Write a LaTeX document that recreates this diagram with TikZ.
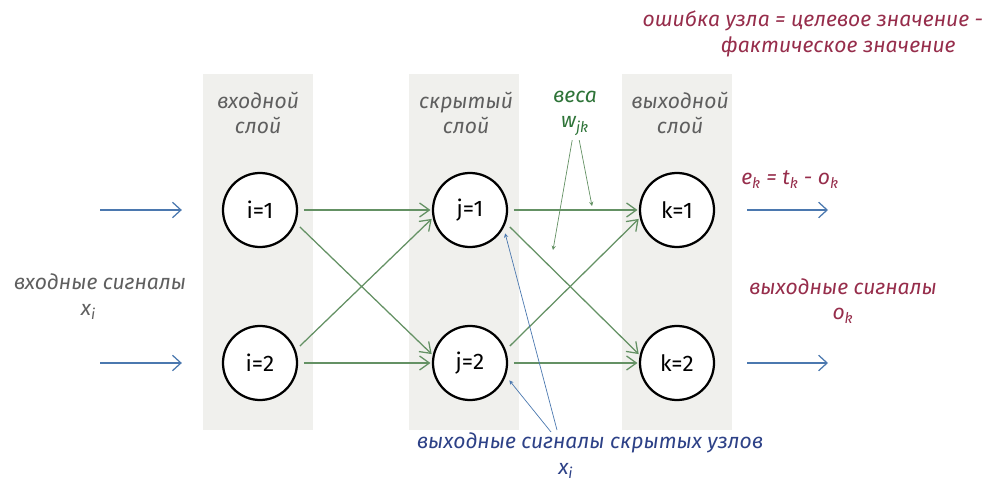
\documentclass[tikz,border=0pt]{standalone}
\usepackage{fontspec}
\setmainfont{Fira Sans}
\usepackage{xcolor}
\usepackage{tikz}
\usetikzlibrary{arrows.meta, positioning}

\definecolor{wgreen}{RGB}{100,145,100}
\definecolor{sigblue}{RGB}{75,120,175}
\definecolor{errred}{RGB}{150,45,75}
\definecolor{lblgray}{RGB}{95,95,95}
\definecolor{txtblue}{RGB}{45,65,135}
\definecolor{txtgreen}{RGB}{45,115,55}
\definecolor{panel}{RGB}{240,240,237}

\begin{document}
\begin{tikzpicture}[
    x=0.025cm, y=-0.025cm,
    neuron/.style={draw, circle, line width=1.6pt, minimum size=1.85cm, fill=white, font=\fontsize{16}{19}\selectfont},
    layer/.style={fill=panel, draw=none, minimum width=2.75cm, minimum height=8.9cm},
    lbl/.style={font=\fontsize{15}{18}\selectfont\itshape, align=center},
    wtarr/.style={-{Straight Barb[length=7pt, width=10pt]}, wgreen, line width=0.9pt, shorten <=4pt, shorten >=1pt},
    sigarr/.style={-{Straight Barb[length=6pt, width=11pt]}, sigblue, line width=0.9pt},
    ptr/.style={-{Stealth[length=3pt, width=3pt]}, line width=0.5pt},
]
\useasboundingbox (0,0) rectangle (992,491);

% Layer panels
\node[layer] (pin) at (258,252) {};
\node[layer] (phid) at (464,252) {};
\node[layer] (pout) at (677,252) {};

% Layer labels
\node[lbl, lblgray] (lin) at (258,113) {входной\\слой};
\node[lbl, lblgray] (lhid) at (466,113) {скрытый\\слой};
\node[lbl, lblgray] (lout) at (680,113) {выходной\\слой};
\node[lbl, txtgreen] (wts) at (575,113) {веса\\w\textsubscript{jk}};

% Neurons
\node[neuron] (i1) at (260,210) {i=1};
\node[neuron] (i2) at (260,363) {i=2};
\node[neuron] (j1) at (470,210) {j=1};
\node[neuron] (j2) at (470,363) {j=2};
\node[neuron] (k1) at (677,210) {k=1};
\node[neuron] (k2) at (677,363) {k=2};

% Signal labels
\node[lbl, lblgray] (xin) at (100,297) {входные сигналы\\x\textsubscript{i}\hspace*{1.1em}};
\node[lbl, errred] (err) at (790,180) {e\textsubscript{k} = t\textsubscript{k} - o\textsubscript{k}};
\node[lbl, errred] (oout) at (843,301) {выходные сигналы\\o\textsubscript{k}};
\node[lbl, errred, align=right, anchor=north east] (errdef) at (988,6) {ошибка узла = целевое значение -\\фактическое значение\hspace*{1.3em}};
\node[lbl, txtblue] (xhid) at (590,456) {выходные сигналы скрытых узлов\\x\textsubscript{i}\hspace*{2.3em}};

% Free ends
\coordinate (in1) at (100,210);
\coordinate (in2) at (100,363);
\coordinate (out1) at (828,210);
\coordinate (out2) at (828,363);
\coordinate (wa) at (553,250);
\coordinate (wb) at (592,206);
\coordinate (ha) at (557,430);
\coordinate (hb) at (551,432);

% Input and output arrows
\draw[sigarr, shorten >=1cm] (in1) -- (i1.west);
\draw[sigarr, shorten >=1cm] (in2) -- (i2.west);
\draw[sigarr, shorten <=0.8cm] (k1.east) -- (out1);
\draw[sigarr, shorten <=0.8cm] (k2.east) -- (out2);

% Weights input -> hidden
\draw[wtarr] (i1.east) -- (j1.west);  \draw[wtarr] (i1.-20) -- (j2.168);
\draw[wtarr] (i2.east) -- (j2.west);  \draw[wtarr] (i2.20) -- (j1.192);

% Weights hidden -> output
\draw[wtarr] (j1.east) -- (k1.west);  \draw[wtarr] (j1.-20) -- (k2.168);
\draw[wtarr] (j2.east) -- (k2.west);  \draw[wtarr] (j2.20) -- (k1.192);

% Pointers
\draw[ptr, wgreen] ([xshift=-2pt]wts.south) -- (wa);
\draw[ptr, wgreen] ([xshift=3pt]wts.south) -- (wb);
\draw[ptr, sigblue, shorten >=4pt] (ha) -- (j1.-28);
\draw[ptr, sigblue, shorten >=4pt] (hb) -- (j2.-20);

\end{tikzpicture}
\end{document}
